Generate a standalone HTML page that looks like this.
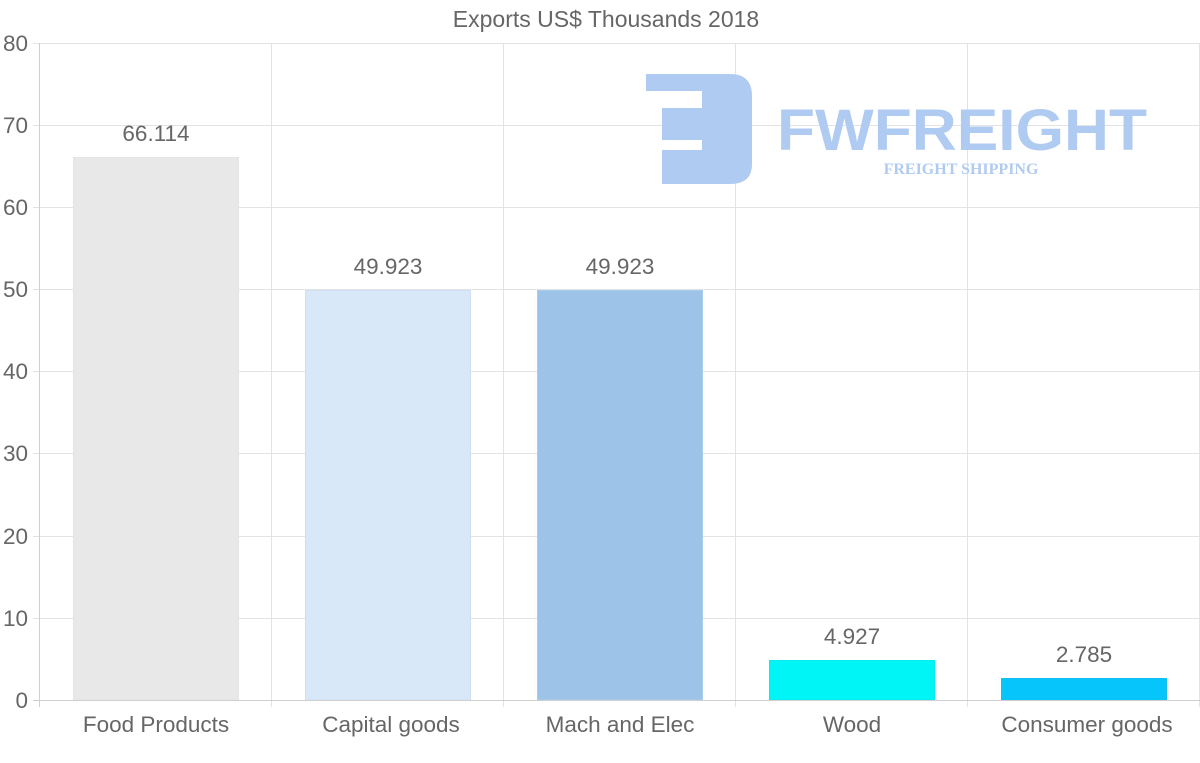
<!DOCTYPE html>
<html><head><meta charset="utf-8"><style>
html,body{margin:0;padding:0;background:#fff;}
svg{display:block;font-family:"Liberation Sans",Arial,sans-serif;}
</style></head><body>
<svg width="1200" height="763" viewBox="0 0 1200 763" xmlns="http://www.w3.org/2000/svg">
<text x="606" y="27" text-anchor="middle" font-size="23" fill="#666">Exports US$ Thousands 2018</text>
<g stroke="#e3e3e3" stroke-width="1">
<line x1="33" y1="43.5" x2="1200" y2="43.5"/>
<line x1="33" y1="125.5" x2="1200" y2="125.5"/>
<line x1="33" y1="207.5" x2="1200" y2="207.5"/>
<line x1="33" y1="289.5" x2="1200" y2="289.5"/>
<line x1="33" y1="371.5" x2="1200" y2="371.5"/>
<line x1="33" y1="453.5" x2="1200" y2="453.5"/>
<line x1="33" y1="536.5" x2="1200" y2="536.5"/>
<line x1="33" y1="618.5" x2="1200" y2="618.5"/>
<line x1="271.5" y1="43" x2="271.5" y2="707"/>
<line x1="503.5" y1="43" x2="503.5" y2="707"/>
<line x1="735.5" y1="43" x2="735.5" y2="707"/>
<line x1="967.5" y1="43" x2="967.5" y2="707"/>
<line x1="1199.5" y1="43" x2="1199.5" y2="707"/>
</g>
<g fill="#b0cbf2">
<path d="M646 74 H730 Q752 74 752 96 V164 Q752 184 730 184 H662 V150 H702 V140 H662 V108 H702 V91 H646 Z"/>
<text x="962" y="150" text-anchor="middle" font-size="58" font-weight="bold" textLength="370" lengthAdjust="spacingAndGlyphs" fill="#b0cbf2">FWFREIGHT</text>
<text x="961" y="174" text-anchor="middle" font-family="Liberation Serif,serif" font-size="16" font-weight="bold" fill="#b0cbf2">FREIGHT SHIPPING</text>
</g>
<g stroke-width="1">
<rect x="73.5" y="157.5" width="165" height="542.5" fill="#e8e8e8" stroke="#e4e4e4"/>
<rect x="305.5" y="290.5" width="165" height="409.5" fill="#d8e8f9" stroke="#cfe0f3"/>
<rect x="537.5" y="290.5" width="165" height="409.5" fill="#9dc4e8" stroke="#a9cbeb"/>
<rect x="769.5" y="660.5" width="165" height="39.5" fill="#00f6f6" stroke="#0aeaea"/>
<rect x="1001.5" y="678.5" width="165" height="21.5" fill="#06c5fb" stroke="#10bff0"/>
</g>
<line x1="39.5" y1="43" x2="39.5" y2="707" stroke="#cfcfcf"/>
<line x1="33" y1="700.5" x2="1200" y2="700.5" stroke="#cfcfcf"/>
<g font-size="22.5" fill="#666" text-anchor="middle">
<text x="156" y="141">66.114</text>
<text x="388" y="274">49.923</text>
<text x="620" y="274">49.923</text>
<text x="852" y="644">4.927</text>
<text x="1084" y="662">2.785</text>
<text x="156" y="732">Food Products</text>
<text x="391" y="732">Capital goods</text>
<text x="620" y="732">Mach and Elec</text>
<text x="852" y="732">Wood</text>
<text x="1087" y="732">Consumer goods</text>
</g>
<g font-size="22.5" fill="#666" text-anchor="end">
<text x="28" y="51">80</text>
<text x="28" y="133">70</text>
<text x="28" y="215">60</text>
<text x="28" y="297">50</text>
<text x="28" y="379">40</text>
<text x="28" y="461">30</text>
<text x="28" y="544">20</text>
<text x="28" y="626">10</text>
<text x="28" y="708">0</text>
</g>
</svg>
</body></html>
